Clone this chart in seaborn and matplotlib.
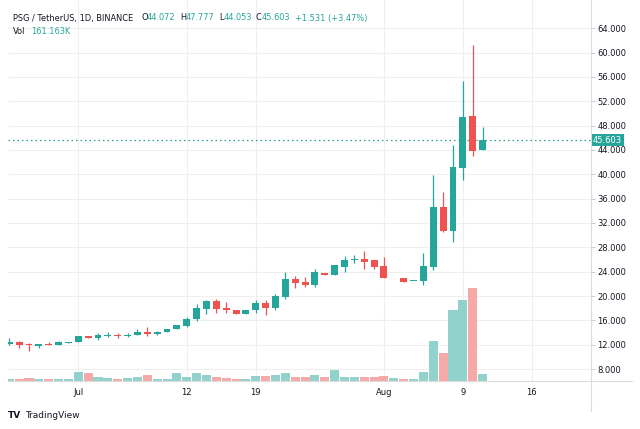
import numpy as np
import pandas as pd
import matplotlib.pyplot as plt
from matplotlib.lines import Line2D
import seaborn as sns

## Daily candles, day offset from 1 Jul 2021 (Jun 24 .. Aug 11), Aug 2 has no candle
days = np.arange(-7, 42)
opens = [12.15, 12.45, 12.1, 11.85, 12.15, 12.0, 12.3, 12.45, 13.42, 13.1,
         13.45, 13.62, 13.45, 13.64, 14.1, 13.8, 14.13, 14.6, 15.1, 16.24,
         17.86, 19.18, 18.03, 17.7, 17.04, 17.7, 18.8, 18.0, 19.9, 22.8,
         22.35, 21.8, 23.84, 23.5, 24.8, 25.9, 26.1, 25.9, 24.9, np.nan,
         23.0, 22.4, 22.5, 24.8, 34.6, 30.7, 41.1, 49.6, 44.072]
highs = [13.1, 12.6, 12.3, 12.1, 12.45, 12.6, 12.45, 13.45, 13.45, 14.0,
         14.05, 13.95, 13.85, 14.55, 14.85, 14.2, 14.6, 15.2, 16.6, 18.64,
         19.35, 19.46, 19.0, 17.7, 17.7, 19.35, 19.35, 20.4, 23.95, 23.3,
         23.1, 24.4, 23.84, 25.1, 26.6, 26.7, 27.4, 25.9, 26.4, np.nan,
         23.0, 22.5, 27.1, 39.9, 37.1, 44.8, 55.3, 61.3, 47.777]
lows = [12.0, 11.5, 11.0, 11.5, 11.9, 12.0, 12.3, 12.45, 13.15, 12.8,
        13.2, 13.1, 13.3, 13.64, 13.47, 13.6, 14.13, 14.6, 14.95, 15.9,
        17.04, 17.2, 17.2, 17.04, 17.04, 17.2, 16.8, 17.7, 19.5, 21.3,
        21.5, 21.5, 23.5, 23.5, 24.0, 25.5, 24.4, 24.4, 23.0, np.nan,
        22.35, 22.4, 21.8, 24.2, 30.5, 28.8, 39.1, 43.0, 44.053]
closes = [12.45, 12.0, 12.0, 12.1, 12.0, 12.45, 12.45, 13.42, 13.15, 13.64,
          13.62, 13.45, 13.62, 14.1, 13.8, 14.1, 14.6, 15.2, 16.2, 18.0,
          19.18, 17.86, 17.7, 17.04, 17.7, 18.8, 18.0, 20.0, 22.8, 22.2,
          21.8, 23.95, 23.5, 25.1, 25.9, 25.95, 25.6, 24.8, 23.0, np.nan,
          22.35, 22.5, 24.9, 34.6, 30.7, 41.2, 49.4, 43.9, 45.603]
# volume in thousands of PSG
volumes_k = [46, 46, 75, 46, 46, 46, 46, 207, 184, 92,
             69, 46, 69, 92, 138, 46, 46, 184, 92, 184,
             138, 92, 69, 46, 46, 115, 115, 138, 184, 92,
             92, 138, 92, 253, 92, 92, 92, 92, 115, 69,
             46, 46, 207, 920, 644, 1633, 1863, 2139, 161]

price_ticks = np.arange(8, 65, 4)
date_ticks = [0, 11, 18, 31, 39, 46]
date_labels = ['Jul', '12', '19', 'Aug', '9', '16']
last_price = 45.603

UP = '#26a69a'
DOWN = '#ef5350'
TXT = '#131722'

sns.set_theme(style='white')
plt.rcParams['font.family'] = ['DejaVu Sans']

df = pd.DataFrame({'day': days, 'open': opens, 'high': highs, 'low': lows,
                   'close': closes, 'vol': volumes_k})
df['dir'] = np.where(df['open'].isna() | (df['close'] >= df['open']), 'up', 'down')

W, H = 640, 429
fig = plt.figure(figsize=(6.4, 4.29), dpi=100)
ax = fig.add_axes([8 / W, 1 - 381 / H, 583 / W, 381 / H])

## volume underneath, on its own hidden scale
axv = ax.twinx()
sns.barplot(data=df, x='day', y='vol', hue='dir', palette={'up': '#92d2cc', 'down': '#f7a9a7'},
            native_scale=True, dodge=False, width=0.92, saturation=1, errorbar=None,
            legend=False, linewidth=0, ax=axv)
axv.set_ylim(0, 381 * 23.0)
axv.set_yticks([])
axv.set_ylabel('')
for s in axv.spines.values():
    s.set_visible(False)

## candles
c = df.dropna()
col = np.where(c['dir'] == 'up', UP, DOWN)
ax.vlines(c['day'], c['low'], c['high'], colors=col, lw=0.9, zorder=3)
body_lo = np.minimum(c['open'], c['close'])
body_h = np.maximum((c['close'] - c['open']).abs(), 0.15)
ax.bar(c['day'], body_h, bottom=body_lo, width=0.7, color=col, lw=0, zorder=4)

ax.axhline(last_price, color=UP, ls=(0, (1.2, 2.4)), lw=0.9, zorder=2)

ax.set_xlim(-7.13, 52.0)
ax.set_ylim(6.03, 68.65)
ax.set_xticks(date_ticks, date_labels)
ax.set_yticks(price_ticks, [f'{v:.3f}' for v in price_ticks])
ax.yaxis.tick_right()
ax.grid(True, color='#efefef', lw=0.8)
ax.set_axisbelow(True)
ax.set_facecolor('none')
for s in ax.spines.values():
    s.set_visible(False)
ax.tick_params(axis='x', length=0, pad=5, labelsize=6, labelcolor=TXT)
ax.tick_params(axis='y', length=3, width=0.6, color='#c8c8c8', pad=1.5, labelsize=6, labelcolor=TXT)

# last price tag on the scale
ax.text(1.0035, last_price, f'{last_price:.3f}', transform=ax.get_yaxis_transform(),
        ha='left', va='center', color='white', fontsize=6,
        bbox=dict(boxstyle='square,pad=0.2', fc=UP, ec='none'), zorder=6, clip_on=False)

# pane borders
fig.add_artist(Line2D([591 / W, 591 / W], [1, 1 - 411 / H], color='#dcdcdc', lw=0.8))
fig.add_artist(Line2D([8 / W, 632 / W], [1 - 381 / H, 1 - 381 / H], color='#dcdcdc', lw=0.8))

## legend header
def px(x, y, s, color=TXT, size=5.95, **kw):
    fig.text(x / W, 1 - y / H, s, color=color, fontsize=size, va='center', ha='left', **kw)

px(13, 18, 'PSG / TetherUS, 1D, BINANCE')
for lab, x0, val, x1 in [('O', 141, '44.072', 147), ('H', 180, '47.777', 186),
                         ('L', 219, '44.053', 224), ('C', 256, '45.603', 262)]:
    px(x0, 18, lab)
    px(x1, 18, val, UP)
px(295, 18, '+1.531 (+3.47%)', UP)
px(13, 32, 'Vol')
px(31, 32, '161.163K', UP)

px(8, 415, 'TV', weight='heavy', size=6.5)
px(25, 415, 'TradingView', size=6.5)

fig.savefig('out.png', dpi=100)
